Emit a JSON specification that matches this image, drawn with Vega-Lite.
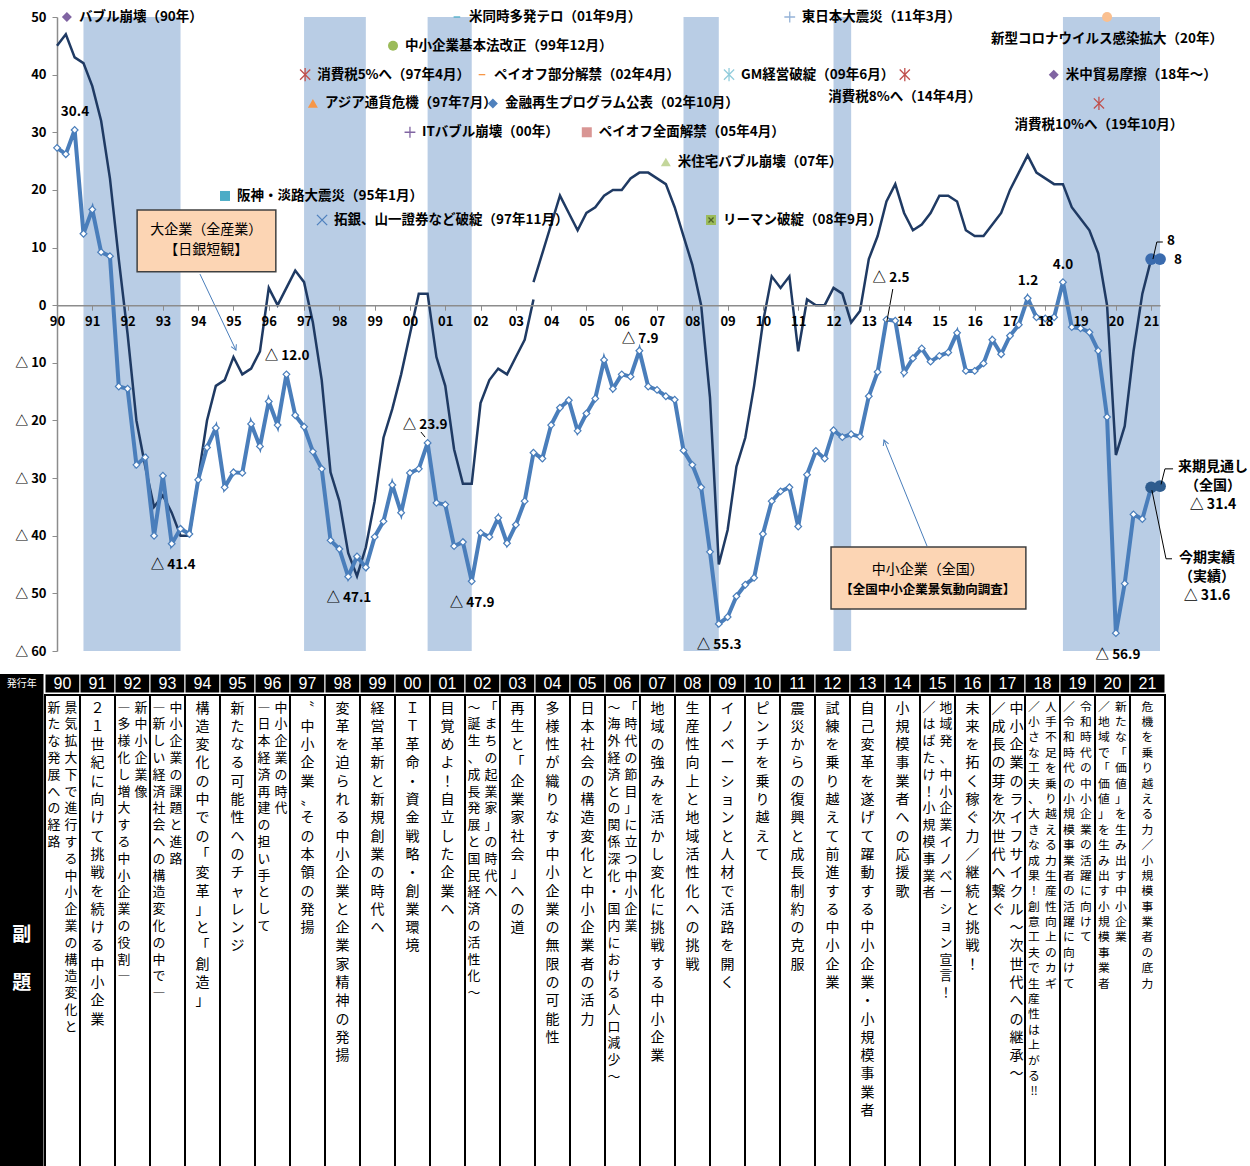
{
"$schema": "https://vega.github.io/schema/vega-lite/v6.json",
"background": "white",
"padding": 0,
"spacing": 5,
"config": {"view": {"stroke": null}, "font": "Noto Sans CJK JP", "concat": {"spacing": 0}},
"datasets": {
"bands": [{"x":1990.75,"x2":1993.5},{"x":1997,"x2":1998.75},{"x":2000.5,"x2":2001.75},{"x":2007.75,"x2":2008.75},{"x":2012,"x2":2012.5},{"x":2018.5,"x2":2021.25}],
"large": [
{"x":1990,"y":45,"seg":"a"},{"x":1990.25,"y":47,"seg":"a"},{"x":1990.5,"y":43,"seg":"a"},{"x":1990.75,"y":42,"seg":"a"},
{"x":1991,"y":38,"seg":"a"},{"x":1991.25,"y":32,"seg":"a"},{"x":1991.5,"y":22,"seg":"a"},{"x":1991.75,"y":8,"seg":"a"},
{"x":1992,"y":-5,"seg":"a"},{"x":1992.25,"y":-20,"seg":"a"},{"x":1992.5,"y":-28,"seg":"a"},{"x":1992.75,"y":-35,"seg":"a"},
{"x":1993,"y":-33,"seg":"a"},{"x":1993.25,"y":-36,"seg":"a"},{"x":1993.5,"y":-40,"seg":"a"},{"x":1993.75,"y":-40,"seg":"a"},
{"x":1994,"y":-30,"seg":"a"},{"x":1994.25,"y":-20,"seg":"a"},{"x":1994.5,"y":-14,"seg":"a"},{"x":1994.75,"y":-13,"seg":"a"},
{"x":1995,"y":-9,"seg":"a"},{"x":1995.25,"y":-12,"seg":"a"},{"x":1995.5,"y":-11,"seg":"a"},{"x":1995.75,"y":-8,"seg":"a"},
{"x":1996,"y":3,"seg":"a"},{"x":1996.25,"y":0,"seg":"a"},{"x":1996.5,"y":3,"seg":"a"},{"x":1996.75,"y":6,"seg":"a"},
{"x":1997,"y":4,"seg":"a"},{"x":1997.25,"y":-3,"seg":"a"},{"x":1997.5,"y":-13,"seg":"a"},{"x":1997.75,"y":-29,"seg":"a"},
{"x":1998,"y":-34,"seg":"a"},{"x":1998.25,"y":-43,"seg":"a"},{"x":1998.5,"y":-47,"seg":"a"},{"x":1998.75,"y":-42,"seg":"a"},
{"x":1999,"y":-34,"seg":"a"},{"x":1999.25,"y":-23,"seg":"a"},{"x":1999.5,"y":-18,"seg":"a"},{"x":1999.75,"y":-12,"seg":"a"},
{"x":2000,"y":-5,"seg":"a"},{"x":2000.25,"y":2,"seg":"a"},{"x":2000.5,"y":2,"seg":"a"},{"x":2000.75,"y":-9,"seg":"a"},
{"x":2001,"y":-14,"seg":"a"},{"x":2001.25,"y":-25,"seg":"a"},{"x":2001.5,"y":-31,"seg":"a"},{"x":2001.75,"y":-31,"seg":"a"},
{"x":2002,"y":-17,"seg":"a"},{"x":2002.25,"y":-13,"seg":"a"},{"x":2002.5,"y":-11,"seg":"a"},{"x":2002.75,"y":-12,"seg":"a"},
{"x":2003,"y":-9,"seg":"a"},{"x":2003.25,"y":-6,"seg":"a"},{"x":2003.5,"y":1,"seg":"a"},
{"x":2003.5,"y":4,"seg":"b"},{"x":2003.75,"y":9,"seg":"b"},
{"x":2004,"y":14,"seg":"b"},{"x":2004.25,"y":19,"seg":"b"},{"x":2004.5,"y":16,"seg":"b"},{"x":2004.75,"y":13,"seg":"b"},
{"x":2005,"y":16,"seg":"b"},{"x":2005.25,"y":17,"seg":"b"},{"x":2005.5,"y":19,"seg":"b"},{"x":2005.75,"y":20,"seg":"b"},
{"x":2006,"y":20,"seg":"b"},{"x":2006.25,"y":22,"seg":"b"},{"x":2006.5,"y":23,"seg":"b"},{"x":2006.75,"y":23,"seg":"b"},
{"x":2007,"y":22,"seg":"b"},{"x":2007.25,"y":21,"seg":"b"},{"x":2007.5,"y":17,"seg":"b"},{"x":2007.75,"y":12,"seg":"b"},
{"x":2008,"y":7,"seg":"b"},{"x":2008.25,"y":0,"seg":"b"},{"x":2008.5,"y":-16,"seg":"b"},{"x":2008.75,"y":-45,"seg":"b"},
{"x":2009,"y":-39,"seg":"b"},{"x":2009.25,"y":-28,"seg":"b"},{"x":2009.5,"y":-23,"seg":"b"},{"x":2009.75,"y":-14,"seg":"b"},
{"x":2010,"y":-3,"seg":"b"},{"x":2010.25,"y":5,"seg":"b"},{"x":2010.5,"y":3,"seg":"b"},{"x":2010.75,"y":5,"seg":"b"},
{"x":2011,"y":-8,"seg":"b"},{"x":2011.25,"y":1,"seg":"b"},{"x":2011.5,"y":0,"seg":"b"},{"x":2011.75,"y":0,"seg":"b"},
{"x":2012,"y":3,"seg":"b"},{"x":2012.25,"y":2,"seg":"b"},{"x":2012.5,"y":-3,"seg":"b"},{"x":2012.75,"y":-1,"seg":"b"},
{"x":2013,"y":8,"seg":"b"},{"x":2013.25,"y":12,"seg":"b"},{"x":2013.5,"y":18,"seg":"b"},{"x":2013.75,"y":21,"seg":"b"},
{"x":2014,"y":16,"seg":"b"},{"x":2014.25,"y":13,"seg":"b"},{"x":2014.5,"y":14,"seg":"b"},{"x":2014.75,"y":16,"seg":"b"},
{"x":2015,"y":19,"seg":"b"},{"x":2015.25,"y":19,"seg":"b"},{"x":2015.5,"y":18,"seg":"b"},{"x":2015.75,"y":13,"seg":"b"},
{"x":2016,"y":12,"seg":"b"},{"x":2016.25,"y":12,"seg":"b"},{"x":2016.5,"y":14,"seg":"b"},{"x":2016.75,"y":16,"seg":"b"},
{"x":2017,"y":20,"seg":"b"},{"x":2017.25,"y":23,"seg":"b"},{"x":2017.5,"y":26,"seg":"b"},{"x":2017.75,"y":23,"seg":"b"},
{"x":2018,"y":22,"seg":"b"},{"x":2018.25,"y":21,"seg":"b"},{"x":2018.5,"y":21,"seg":"b"},{"x":2018.75,"y":17,"seg":"b"},
{"x":2019,"y":15,"seg":"b"},{"x":2019.25,"y":13,"seg":"b"},{"x":2019.5,"y":9,"seg":"b"},{"x":2019.75,"y":0,"seg":"b"},
{"x":2020,"y":-26,"seg":"b"},{"x":2020.25,"y":-21,"seg":"b"},{"x":2020.5,"y":-8,"seg":"b"},{"x":2020.75,"y":2,"seg":"b"},
{"x":2021,"y":8,"seg":"b"}
],
"sme": [
{"x":1990,"y":27.3},{"x":1990.25,"y":26.2},{"x":1990.5,"y":30.4},{"x":1990.75,"y":12.4},
{"x":1991,"y":16.6},{"x":1991.25,"y":9.2},{"x":1991.5,"y":8.5},{"x":1991.75,"y":-14.1},
{"x":1992,"y":-14.5},{"x":1992.25,"y":-27.7},{"x":1992.5,"y":-26.4},{"x":1992.75,"y":-40.0},
{"x":1993,"y":-29.6},{"x":1993.25,"y":-41.4},{"x":1993.5,"y":-38.8},{"x":1993.75,"y":-39.7},
{"x":1994,"y":-30.3},{"x":1994.25,"y":-24.7},{"x":1994.5,"y":-21.3},{"x":1994.75,"y":-31.6},
{"x":1995,"y":-29.0},{"x":1995.25,"y":-29.1},{"x":1995.5,"y":-20.6},{"x":1995.75,"y":-24.5},
{"x":1996,"y":-16.7},{"x":1996.25,"y":-20.8},{"x":1996.5,"y":-12.0},{"x":1996.75,"y":-19.1},
{"x":1997,"y":-21.1},{"x":1997.25,"y":-25.4},{"x":1997.5,"y":-28.4},{"x":1997.75,"y":-40.8},
{"x":1998,"y":-42.3},{"x":1998.25,"y":-47.1},{"x":1998.5,"y":-43.6},{"x":1998.75,"y":-45.5},
{"x":1999,"y":-40.2},{"x":1999.25,"y":-37.5},{"x":1999.5,"y":-31.2},{"x":1999.75,"y":-36.0},
{"x":2000,"y":-29.1},{"x":2000.25,"y":-28.4},{"x":2000.5,"y":-23.9},{"x":2000.75,"y":-34.3},
{"x":2001,"y":-34.6},{"x":2001.25,"y":-41.8},{"x":2001.5,"y":-41.1},{"x":2001.75,"y":-47.9},
{"x":2002,"y":-39.5},{"x":2002.25,"y":-40.2},{"x":2002.5,"y":-36.9},{"x":2002.75,"y":-41.3},
{"x":2003,"y":-38.1},{"x":2003.25,"y":-34.0},{"x":2003.5,"y":-25.6},{"x":2003.75,"y":-26.6},
{"x":2004,"y":-20.8},{"x":2004.25,"y":-17.8},{"x":2004.5,"y":-16.5},{"x":2004.75,"y":-21.8},
{"x":2005,"y":-18.8},{"x":2005.25,"y":-16.2},{"x":2005.5,"y":-9.5},{"x":2005.75,"y":-14.5},
{"x":2006,"y":-12.0},{"x":2006.25,"y":-12.4},{"x":2006.5,"y":-7.9},{"x":2006.75,"y":-14.1},
{"x":2007,"y":-14.7},{"x":2007.25,"y":-15.8},{"x":2007.5,"y":-16.4},{"x":2007.75,"y":-25.2},
{"x":2008,"y":-27.7},{"x":2008.25,"y":-31.6},{"x":2008.5,"y":-42.8},{"x":2008.75,"y":-55.3},
{"x":2009,"y":-54.1},{"x":2009.25,"y":-50.5},{"x":2009.5,"y":-48.5},{"x":2009.75,"y":-47.3},
{"x":2010,"y":-39.7},{"x":2010.25,"y":-34.0},{"x":2010.5,"y":-32.3},{"x":2010.75,"y":-31.6},
{"x":2011,"y":-38.4},{"x":2011.25,"y":-29.4},{"x":2011.5,"y":-25.3},{"x":2011.75,"y":-26.6},
{"x":2012,"y":-21.7},{"x":2012.25,"y":-22.9},{"x":2012.5,"y":-22.4},{"x":2012.75,"y":-22.8},
{"x":2013,"y":-15.8},{"x":2013.25,"y":-11.6},{"x":2013.5,"y":-2.5},{"x":2013.75,"y":-2.7},
{"x":2014,"y":-11.7},{"x":2014.25,"y":-9.2},{"x":2014.5,"y":-7.5},{"x":2014.75,"y":-9.8},
{"x":2015,"y":-8.8},{"x":2015.25,"y":-8.2},{"x":2015.5,"y":-4.8},{"x":2015.75,"y":-11.4},
{"x":2016,"y":-11.4},{"x":2016.25,"y":-10.1},{"x":2016.5,"y":-6.0},{"x":2016.75,"y":-8.5},
{"x":2017,"y":-5.3},{"x":2017.25,"y":-3.4},{"x":2017.5,"y":1.2},{"x":2017.75,"y":-2.1},
{"x":2018,"y":-2.3},{"x":2018.25,"y":-2.1},{"x":2018.5,"y":4.0},{"x":2018.75,"y":-3.8},
{"x":2019,"y":-4.0},{"x":2019.25,"y":-4.7},{"x":2019.5,"y":-7.9},{"x":2019.75,"y":-19.4},
{"x":2020,"y":-56.9},{"x":2020.25,"y":-48.3},{"x":2020.5,"y":-36.3},{"x":2020.75,"y":-37.1},
{"x":2021,"y":-31.6}
],
"ends": [{"x":2021,"y":-31.6,"s":"sme"},{"x":2021.25,"y":-31.4,"s":"sme"},{"x":2021,"y":8,"s":"large"},{"x":2021.25,"y":8,"s":"large"}],
"events": [
{"ev":"バブル崩壊（90年）","x":1990.28,"y":50},
{"ev":"米同時多発テロ（01年9月）","x":2001.33,"y":50},
{"ev":"中小企業基本法改正（99年12月）","x":1999.52,"y":45},
{"ev":"消費税5%へ（97年4月）","x":1997.03,"y":40},
{"ev":"ペイオフ部分解禁（02年4月）","x":2002.04,"y":40},
{"ev":"GM経営破綻（09年6月）","x":2009.04,"y":40},
{"ev":"消費税8%へ（14年4月）","x":2014.02,"y":40},
{"ev":"米中貿易摩擦（18年～）","x":2018.24,"y":40},
{"ev":"アジア通貨危機（97年7月）","x":1997.25,"y":35},
{"ev":"金融再生プログラム公表（02年10月）","x":2002.35,"y":35},
{"ev":"ITバブル崩壊（00年）","x":2000.0,"y":30},
{"ev":"ペイオフ全面解禁（05年4月）","x":2005.01,"y":30},
{"ev":"東日本大震災（11年3月）","x":2010.76,"y":50},
{"ev":"新型コロナウイルス感染拡大（20年）","x":2019.75,"y":50},
{"ev":"消費税10%へ（19年10月）","x":2019.52,"y":35},
{"ev":"米住宅バブル崩壊（07年）","x":2007.25,"y":24.85},
{"ev":"阪神・淡路大震災（95年1月）","x":1994.76,"y":18.95},
{"ev":"拓銀、山一證券など破綻（97年11月）","x":1997.51,"y":14.78},
{"ev":"リーマン破綻（08年9月）","x":2008.53,"y":14.78}
],
"labels": [
{"x":1990.51,"y":33.5,"t":"30.4"},{"x":1996.52,"y":-8.8,"t":"△ 12.0"},{"x":1993.29,"y":-45.1,"t":"△ 41.4"},
{"x":1998.27,"y":-50.8,"t":"△ 47.1"},{"x":2000.43,"y":-20.8,"t":"△ 23.9"},{"x":2001.76,"y":-51.6,"t":"△ 47.9"},
{"x":2006.52,"y":-5.9,"t":"△ 7.9"},{"x":2008.76,"y":-58.9,"t":"△ 55.3"},{"x":2013.63,"y":4.7,"t":"△ 2.5"},
{"x":2017.51,"y":4.2,"t":"1.2"},{"x":2018.5,"y":7.0,"t":"4.0"},{"x":2020.06,"y":-60.7,"t":"△ 56.9"},
{"x":2021.56,"y":11.1,"t":"8"},{"x":2021.76,"y":7.8,"t":"8"}
],
"sidelabels": [{"x":2022.75,"y":-28.1,"t":"来期見通し\n（全国）\n△ 31.4"},{"x":2022.58,"y":-43.9,"t":"今期実績\n（実績）\n△ 31.6"}],
"leaders": [
{"id":"l1","o":1,"x":2013.68,"y":2.8},{"id":"l1","o":2,"x":2013.51,"y":-2.9},
{"id":"l2","o":1,"x":2021.05,"y":8.0},{"id":"l2","o":2,"x":2021.16,"y":10.96},{"id":"l2","o":3,"x":2021.33,"y":10.96},
{"id":"l3","o":1,"x":2021.28,"y":-31.1},{"id":"l3","o":2,"x":2021.39,"y":-28.4},{"id":"l3","o":3,"x":2021.62,"y":-28.4},
{"id":"l4","o":1,"x":2021.02,"y":-32.1},{"id":"l4","o":2,"x":2021.42,"y":-44.0},{"id":"l4","o":3,"x":2021.59,"y":-44.0},
{"id":"l5","o":1,"x":2000.31,"y":-22.0},{"id":"l5","o":2,"x":2000.43,"y":-22.9}
],
"arrows": [{"id":"a1","o":1,"x":1994.05,"y":5.4},{"id":"a1","o":2,"x":1995.07,"y":-7.8},{"id":"a2","o":1,"x":2014.65,"y":-41.8},{"id":"a2","o":2,"x":2013.43,"y":-23.4}],
"boxes": [{"x":1992.27,"x2":1996.2,"y":16.5,"y2":5.8},{"x":2011.93,"x2":2017.45,"y":-41.95,"y2":-52.7}],
"boxtext": [{"x":1994.23,"y":13.05,"t":"大企業（全産業）"},{"x":1994.23,"y":9.6,"t":"【日銀短観】"},{"x":2014.67,"y":-45.9,"t":"中小企業（全国）"},{"x":2014.67,"y":-49.4,"t":"【全国中小企業景気動向調査】"}],
"years": [{"yr":"90"},{"yr":"91"},{"yr":"92"},{"yr":"93"},{"yr":"94"},{"yr":"95"},{"yr":"96"},{"yr":"97"},{"yr":"98"},{"yr":"99"},{"yr":"00"},{"yr":"01"},{"yr":"02"},{"yr":"03"},{"yr":"04"},{"yr":"05"},{"yr":"06"},{"yr":"07"},{"yr":"08"},{"yr":"09"},{"yr":"10"},{"yr":"11"},{"yr":"12"},{"yr":"13"},{"yr":"14"},{"yr":"15"},{"yr":"16"},{"yr":"17"},{"yr":"18"},{"yr":"19"},{"yr":"20"},{"yr":"21"}],
"subtitles": [
{"yr":"90","ln":1,"t":"景気拡大下で進行する中小企業の構造変化と"},
{"yr":"90","ln":2,"t":"新たな発展への経路"},
{"yr":"91","ln":1,"t":"２１世紀に向けて挑戦を続ける中小企業"},
{"yr":"92","ln":1,"t":"新中小企業像"},
{"yr":"92","ln":2,"t":"―多様化し増大する中小企業の役割―"},
{"yr":"93","ln":1,"t":"中小企業の課題と進路"},
{"yr":"93","ln":2,"t":"―新しい経済社会への構造変化の中で―"},
{"yr":"94","ln":1,"t":"構造変化の中での「変革」と「創造」"},
{"yr":"95","ln":1,"t":"新たなる可能性へのチャレンジ"},
{"yr":"96","ln":1,"t":"中小企業の時代"},
{"yr":"96","ln":2,"t":"―日本経済再建の担い手として"},
{"yr":"97","ln":1,"t":"〝中小企業〟その本領の発揚"},
{"yr":"98","ln":1,"t":"変革を迫られる中小企業と企業家精神の発揚"},
{"yr":"99","ln":1,"t":"経営革新と新規創業の時代へ"},
{"yr":"00","ln":1,"t":"ＩＴ革命・資金戦略・創業環境"},
{"yr":"01","ln":1,"t":"目覚めよ！自立した企業へ"},
{"yr":"02","ln":1,"t":"「まちの起業家」の時代へ"},
{"yr":"02","ln":2,"t":"～誕生、成長発展と国民経済の活性化～"},
{"yr":"03","ln":1,"t":"再生と「企業家社会」への道"},
{"yr":"04","ln":1,"t":"多様性が織りなす中小企業の無限の可能性"},
{"yr":"05","ln":1,"t":"日本社会の構造変化と中小企業者の活力"},
{"yr":"06","ln":1,"t":"「時代の節目」に立つ中小企業"},
{"yr":"06","ln":2,"t":"～海外経済との関係深化・国内における人口減少～"},
{"yr":"07","ln":1,"t":"地域の強みを活かし変化に挑戦する中小企業"},
{"yr":"08","ln":1,"t":"生産性向上と地域活性化への挑戦"},
{"yr":"09","ln":1,"t":"イノベーションと人材で活路を開く"},
{"yr":"10","ln":1,"t":"ピンチを乗り越えて"},
{"yr":"11","ln":1,"t":"震災からの復興と成長制約の克服"},
{"yr":"12","ln":1,"t":"試練を乗り越えて前進する中小企業"},
{"yr":"13","ln":1,"t":"自己変革を遂げて躍動する中小企業・小規模事業者"},
{"yr":"14","ln":1,"t":"小規模事業者への応援歌"},
{"yr":"15","ln":1,"t":"地域発、中小企業イノベーション宣言！"},
{"yr":"15","ln":2,"t":"／はばたけ！小規模事業者"},
{"yr":"16","ln":1,"t":"未来を拓く　稼ぐ力／継続と挑戦！"},
{"yr":"17","ln":1,"t":"中小企業のライフサイクル～次世代への継承～"},
{"yr":"17","ln":2,"t":"／成長の芽を次世代へ繋ぐ"},
{"yr":"18","ln":1,"t":"人手不足を乗り越える力　生産性向上のカギ"},
{"yr":"18","ln":2,"t":"／小さな工夫、大きな成果！創意工夫で生産性は上がる‼"},
{"yr":"19","ln":1,"t":"令和時代の中小企業の活躍に向けて"},
{"yr":"19","ln":2,"t":"／令和時代の小規模事業者の活躍に向けて"},
{"yr":"20","ln":1,"t":"新たな「価値」を生み出す中小企業"},
{"yr":"20","ln":2,"t":"／地域で「価値」を生み出す小規模事業者"},
{"yr":"21","ln":1,"t":"危機を乗り越える力／小規模事業者の底力"}
]
},
"vconcat": [
{
"width": 1250, "height": 668,
"view": {"fill": "white", "stroke": null},
"resolve": {"scale": {"color": "independent", "shape": "independent"}},
"layer": [
{"data": {"name": "bands"}, "mark": {"type": "rect", "color": "#B9CDE5"},
 "encoding": {
  "x": {"field": "x", "type": "quantitative", "scale": {"domain": [1990, 2021.25], "range": [57, 1160], "nice": false, "zero": false}},
  "x2": {"field": "x2"},
  "y": {"datum": 50, "type": "quantitative", "scale": {"domain": [-60, 50], "range": [651, 17], "nice": false, "zero": false}},
  "y2": {"datum": -60}}},
{"data": {"name": "boxes"}, "mark": {"type": "rect", "fill": "#FCD5B4", "stroke": "#404040", "strokeWidth": 1.5},
 "encoding": {
  "x": {"field": "x", "type": "quantitative", "scale": {"domain": [1990, 2021.25], "range": [57, 1160], "nice": false, "zero": false}},
  "x2": {"field": "x2"},
  "y": {"field": "y", "type": "quantitative", "scale": {"domain": [-60, 50], "range": [651, 17], "nice": false, "zero": false}},
  "y2": {"field": "y2"}}},
{"data": {"name": "large"}, "mark": {"type": "line", "color": "#1F3A63", "strokeWidth": 2.5},
 "encoding": {
  "x": {"field": "x", "type": "quantitative", "scale": {"domain": [1990, 2021.25], "range": [57, 1160], "nice": false, "zero": false}},
  "y": {"field": "y", "type": "quantitative", "scale": {"domain": [-60, 50], "range": [651, 17], "nice": false, "zero": false}},
  "detail": {"field": "seg"}}},
{"data": {"name": "sme"}, "mark": {"type": "line", "color": "#4A7EBB", "strokeWidth": 4},
 "encoding": {
  "x": {"field": "x", "type": "quantitative", "scale": {"domain": [1990, 2021.25], "range": [57, 1160], "nice": false, "zero": false},
    "axis": {"values": [1990,1991,1992,1993,1994,1995,1996,1997,1998,1999,2000,2001,2002,2003,2004,2005,2006,2007,2008,2009,2010,2011,2012,2013,2014,2015,2016,2017,2018,2019,2020,2021],
      "labelExpr": "(datum.value % 100 < 10 ? '0' : '') + (datum.value % 100)", "offset": -362.8, "domainColor": "#8C8C8C", "domainWidth": 1.5, "tickColor": "#8C8C8C", "tickSize": 5,
      "labelPadding": 5, "labelFontSize": 13, "labelFontWeight": "bold", "labelColor": "black", "grid": false, "title": null, "zindex": 1, "labelOverlap": false, "labelFlush": false}},
  "y": {"field": "y", "type": "quantitative", "scale": {"domain": [-60, 50], "range": [651, 17], "nice": false, "zero": false},
    "axis": {"values": [-60,-50,-40,-30,-20,-10,0,10,20,30,40,50], "labelExpr": "datum.value < 0 ? '△ ' + (-datum.value) : '' + datum.value",
      "offset": -57, "domainColor": "#8C8C8C", "domainWidth": 1.5, "tickColor": "#8C8C8C", "tickSize": 5, "labelPadding": 6, "labelFontSize": 13, "labelFontWeight": "bold",
      "labelColor": "black", "grid": false, "title": null, "labelOverlap": false}}}},
{"data": {"name": "sme"}, "mark": {"type": "point", "shape": "diamond", "filled": true, "fill": "white", "stroke": "#4A7EBB", "strokeWidth": 1.2, "size": 45, "opacity": 1},
 "encoding": {
  "x": {"field": "x", "type": "quantitative", "scale": {"domain": [1990, 2021.25], "range": [57, 1160], "nice": false, "zero": false}},
  "y": {"field": "y", "type": "quantitative", "scale": {"domain": [-60, 50], "range": [651, 17], "nice": false, "zero": false}}}},
{"data": {"name": "ends"}, "transform": [{"filter": "datum.s == 'sme'"}], "mark": {"type": "point", "filled": true, "color": "#2E5C8E", "size": 140, "opacity": 1},
 "encoding": {
  "x": {"field": "x", "type": "quantitative", "scale": {"domain": [1990, 2021.25], "range": [57, 1160], "nice": false, "zero": false}},
  "y": {"field": "y", "type": "quantitative", "scale": {"domain": [-60, 50], "range": [651, 17], "nice": false, "zero": false}}}},
{"data": {"name": "ends"}, "transform": [{"filter": "datum.s == 'large'"}], "mark": {"type": "point", "filled": true, "color": "#3A6BAE", "size": 140, "opacity": 1},
 "encoding": {
  "x": {"field": "x", "type": "quantitative", "scale": {"domain": [1990, 2021.25], "range": [57, 1160], "nice": false, "zero": false}},
  "y": {"field": "y", "type": "quantitative", "scale": {"domain": [-60, 50], "range": [651, 17], "nice": false, "zero": false}}}},
{"data": {"name": "arrows"}, "mark": {"type": "line", "color": "#4A7EBB", "strokeWidth": 1},
 "encoding": {
  "x": {"field": "x", "type": "quantitative", "scale": {"domain": [1990, 2021.25], "range": [57, 1160], "nice": false, "zero": false}},
  "y": {"field": "y", "type": "quantitative", "scale": {"domain": [-60, 50], "range": [651, 17], "nice": false, "zero": false}},
  "detail": {"field": "id"}, "order": {"field": "o"}}},
{"data": {"name": "arrows"}, "transform": [{"filter": "datum.id == 'a1' && datum.o == 2"}], "mark": {"type": "point", "shape": "M-0.55,-1L0,0L0.55,-1", "filled": false, "color": "#4A7EBB", "strokeWidth": 1, "size": 110, "angle": 335, "opacity": 1},
 "encoding": {
  "x": {"field": "x", "type": "quantitative", "scale": {"domain": [1990, 2021.25], "range": [57, 1160], "nice": false, "zero": false}},
  "y": {"field": "y", "type": "quantitative", "scale": {"domain": [-60, 50], "range": [651, 17], "nice": false, "zero": false}}}},
{"data": {"name": "arrows"}, "transform": [{"filter": "datum.id == 'a2' && datum.o == 2"}], "mark": {"type": "point", "shape": "M-0.55,-1L0,0L0.55,-1", "filled": false, "color": "#4A7EBB", "strokeWidth": 1, "size": 110, "angle": 158, "opacity": 1},
 "encoding": {
  "x": {"field": "x", "type": "quantitative", "scale": {"domain": [1990, 2021.25], "range": [57, 1160], "nice": false, "zero": false}},
  "y": {"field": "y", "type": "quantitative", "scale": {"domain": [-60, 50], "range": [651, 17], "nice": false, "zero": false}}}},
{"data": {"name": "leaders"}, "mark": {"type": "line", "color": "black", "strokeWidth": 1},
 "encoding": {
  "x": {"field": "x", "type": "quantitative", "scale": {"domain": [1990, 2021.25], "range": [57, 1160], "nice": false, "zero": false}},
  "y": {"field": "y", "type": "quantitative", "scale": {"domain": [-60, 50], "range": [651, 17], "nice": false, "zero": false}},
  "detail": {"field": "id"}, "order": {"field": "o"}}},
{"data": {"name": "events"},
 "transform": [{"filter": {"field": "ev", "oneOf": ["バブル崩壊（90年）","中小企業基本法改正（99年12月）","米中貿易摩擦（18年～）","アジア通貨危機（97年7月）","金融再生プログラム公表（02年10月）","ペイオフ全面解禁（05年4月）","新型コロナウイルス感染拡大（20年）","米住宅バブル崩壊（07年）","阪神・淡路大震災（95年1月）","リーマン破綻（08年9月）"]}}],
 "mark": {"type": "point", "filled": true, "size": 100, "opacity": 1},
 "encoding": {
  "x": {"field": "x", "type": "quantitative", "scale": {"domain": [1990, 2021.25], "range": [57, 1160], "nice": false, "zero": false}},
  "y": {"field": "y", "type": "quantitative", "scale": {"domain": [-60, 50], "range": [651, 17], "nice": false, "zero": false}},
  "shape": {"field": "ev", "type": "nominal", "legend": null, "scale": {"domain": ["バブル崩壊（90年）","中小企業基本法改正（99年12月）","米中貿易摩擦（18年～）","アジア通貨危機（97年7月）","金融再生プログラム公表（02年10月）","ペイオフ全面解禁（05年4月）","新型コロナウイルス感染拡大（20年）","米住宅バブル崩壊（07年）","阪神・淡路大震災（95年1月）","リーマン破綻（08年9月）"],
     "range": ["diamond","circle","diamond","triangle-up","diamond","square","circle","triangle-up","square","square"]}},
  "color": {"field": "ev", "type": "nominal", "legend": null, "scale": {"domain": ["バブル崩壊（90年）","中小企業基本法改正（99年12月）","米中貿易摩擦（18年～）","アジア通貨危機（97年7月）","金融再生プログラム公表（02年10月）","ペイオフ全面解禁（05年4月）","新型コロナウイルス感染拡大（20年）","米住宅バブル崩壊（07年）","阪神・淡路大震災（95年1月）","リーマン破綻（08年9月）"],
     "range": ["#8064A2","#9BBB59","#8064A2","#F79646","#4F81BD","#D99694","#FAC090","#C3D69B","#4BACC6","#9BBB59"]}}}},
{"data": {"name": "events"},
 "transform": [{"filter": {"field": "ev", "oneOf": ["米同時多発テロ（01年9月）","消費税5%へ（97年4月）","ペイオフ部分解禁（02年4月）","GM経営破綻（09年6月）","消費税8%へ（14年4月）","ITバブル崩壊（00年）","東日本大震災（11年3月）","消費税10%へ（19年10月）","拓銀、山一證券など破綻（97年11月）","リーマン破綻（08年9月）"]}}],
 "mark": {"type": "point", "filled": false, "size": 144, "strokeWidth": 1.3, "opacity": 1},
 "encoding": {
  "x": {"field": "x", "type": "quantitative", "scale": {"domain": [1990, 2021.25], "range": [57, 1160], "nice": false, "zero": false}},
  "y": {"field": "y", "type": "quantitative", "scale": {"domain": [-60, 50], "range": [651, 17], "nice": false, "zero": false}},
  "shape": {"field": "ev", "type": "nominal", "legend": null, "scale": {"domain": ["米同時多発テロ（01年9月）","消費税5%へ（97年4月）","ペイオフ部分解禁（02年4月）","GM経営破綻（09年6月）","消費税8%へ（14年4月）","ITバブル崩壊（00年）","東日本大震災（11年3月）","消費税10%へ（19年10月）","拓銀、山一證券など破綻（97年11月）","リーマン破綻（08年9月）"],
     "range": ["M-0.55,0L0.55,0","M-0.85,-0.85L0.85,0.85M-0.85,0.85L0.85,-0.85M0,-1.1L0,1.1","M-0.55,0L0.55,0","M-0.85,-0.85L0.85,0.85M-0.85,0.85L0.85,-0.85M0,-1.1L0,1.1","M-0.85,-0.85L0.85,0.85M-0.85,0.85L0.85,-0.85M0,-1.1L0,1.1","M-0.9,0L0.9,0M0,-0.9L0,0.9","M-0.9,0L0.9,0M0,-0.9L0,0.9","M-0.85,-0.85L0.85,0.85M-0.85,0.85L0.85,-0.85M0,-1.1L0,1.1","M-0.85,-0.85L0.85,0.85M-0.85,0.85L0.85,-0.85","M-0.42,-0.42L0.42,0.42M-0.42,0.42L0.42,-0.42"]}},
  "color": {"field": "ev", "type": "nominal", "legend": null, "scale": {"domain": ["米同時多発テロ（01年9月）","消費税5%へ（97年4月）","ペイオフ部分解禁（02年4月）","GM経営破綻（09年6月）","消費税8%へ（14年4月）","ITバブル崩壊（00年）","東日本大震災（11年3月）","消費税10%へ（19年10月）","拓銀、山一證券など破綻（97年11月）","リーマン破綻（08年9月）"],
     "range": ["#4BACC6","#C0504D","#F79646","#92CDDC","#C0504D","#8064A2","#95B3D7","#C0504D","#4F81BD","#4F6228"]}}}},
{"data": {"name": "events"},
 "transform": [{"filter": {"not": {"field": "ev", "oneOf": ["消費税8%へ（14年4月）","新型コロナウイルス感染拡大（20年）","消費税10%へ（19年10月）"]}}}],
 "mark": {"type": "text", "align": "left", "baseline": "middle", "dx": 12, "fontSize": 13.5, "fontWeight": "bold", "color": "black"},
 "encoding": {
  "x": {"field": "x", "type": "quantitative", "scale": {"domain": [1990, 2021.25], "range": [57, 1160], "nice": false, "zero": false}},
  "y": {"field": "y", "type": "quantitative", "scale": {"domain": [-60, 50], "range": [651, 17], "nice": false, "zero": false}},
  "text": {"field": "ev"}}},
{"data": {"name": "events"},
 "transform": [{"filter": {"field": "ev", "oneOf": ["消費税8%へ（14年4月）","新型コロナウイルス感染拡大（20年）","消費税10%へ（19年10月）"]}}],
 "mark": {"type": "text", "align": "center", "baseline": "middle", "dy": 22, "fontSize": 13.5, "fontWeight": "bold", "color": "black"},
 "encoding": {
  "x": {"field": "x", "type": "quantitative", "scale": {"domain": [1990, 2021.25], "range": [57, 1160], "nice": false, "zero": false}},
  "y": {"field": "y", "type": "quantitative", "scale": {"domain": [-60, 50], "range": [651, 17], "nice": false, "zero": false}},
  "text": {"field": "ev"}}},
{"data": {"name": "labels"}, "mark": {"type": "text", "align": "center", "baseline": "middle", "fontSize": 13.5, "fontWeight": "bold", "color": "black"},
 "encoding": {
  "x": {"field": "x", "type": "quantitative", "scale": {"domain": [1990, 2021.25], "range": [57, 1160], "nice": false, "zero": false}},
  "y": {"field": "y", "type": "quantitative", "scale": {"domain": [-60, 50], "range": [651, 17], "nice": false, "zero": false}},
  "text": {"field": "t"}}},
{"data": {"name": "sidelabels"}, "mark": {"type": "text", "align": "center", "baseline": "middle", "fontSize": 14, "fontWeight": "bold", "color": "black", "lineBreak": "\n", "lineHeight": 19},
 "encoding": {
  "x": {"field": "x", "type": "quantitative", "scale": {"domain": [1990, 2021.25], "range": [57, 1160], "nice": false, "zero": false}},
  "y": {"field": "y", "type": "quantitative", "scale": {"domain": [-60, 50], "range": [651, 17], "nice": false, "zero": false}},
  "text": {"field": "t"}}},
{"data": {"name": "boxtext"}, "transform": [{"filter": {"field": "t", "oneOf": ["大企業（全産業）","【日銀短観】","中小企業（全国）"]}}],
 "mark": {"type": "text", "align": "center", "baseline": "middle", "fontSize": 14, "color": "black"},
 "encoding": {
  "x": {"field": "x", "type": "quantitative", "scale": {"domain": [1990, 2021.25], "range": [57, 1160], "nice": false, "zero": false}},
  "y": {"field": "y", "type": "quantitative", "scale": {"domain": [-60, 50], "range": [651, 17], "nice": false, "zero": false}},
  "text": {"field": "t"}}},
{"data": {"name": "boxtext"}, "transform": [{"filter": {"field": "t", "oneOf": ["【全国中小企業景気動向調査】"]}}],
 "mark": {"type": "text", "align": "center", "baseline": "middle", "fontSize": 12.5, "fontWeight": "bold", "color": "black"},
 "encoding": {
  "x": {"field": "x", "type": "quantitative", "scale": {"domain": [1990, 2021.25], "range": [57, 1160], "nice": false, "zero": false}},
  "y": {"field": "y", "type": "quantitative", "scale": {"domain": [-60, 50], "range": [651, 17], "nice": false, "zero": false}},
  "text": {"field": "t"}}}
]
},
{
"hconcat": [
 {"vconcat": [
   {"width": 43.5, "height": 19, "view": {"fill": "black", "stroke": null},
    "data": {"values": [{"h": "発行年"}]},
    "mark": {"type": "text", "color": "white", "fontSize": 10},
    "encoding": {"text": {"field": "h"}}},
   {"width": 43.5, "height": 474, "view": {"fill": "black", "stroke": null},
    "data": {"values": [{"h": "副題"}]},
    "mark": {"type": "text", "color": "white", "fontSize": 19, "fontWeight": "bold", "lineBreak": {"expr": "regexp('')"}, "lineHeight": 48, "dy": 5},
    "encoding": {"text": {"field": "h"}}}
 ], "spacing": 0},
 {"vconcat": [
   {"width": 1120, "height": 19, "view": {"fill": "black", "stroke": null},
    "data": {"name": "years"},
    "layer": [
     {"mark": {"type": "rect", "fill": "black", "stroke": "white", "strokeWidth": 1},
      "encoding": {"x": {"field": "yr", "type": "nominal", "scale": {"domain": ["90","91","92","93","94","95","96","97","98","99","00","01","02","03","04","05","06","07","08","09","10","11","12","13","14","15","16","17","18","19","20","21"], "paddingInner": 0, "paddingOuter": 0}, "axis": null}}},
     {"mark": {"type": "text", "color": "white", "fontSize": 16, "font": "Liberation Sans"},
      "encoding": {"x": {"field": "yr", "type": "nominal", "scale": {"domain": ["90","91","92","93","94","95","96","97","98","99","00","01","02","03","04","05","06","07","08","09","10","11","12","13","14","15","16","17","18","19","20","21"], "paddingInner": 0, "paddingOuter": 0}, "axis": null}, "text": {"field": "yr"}}}
    ]},
   {"width": 1120, "height": 474, "view": {"fill": "white", "stroke": null},
    "data": {"name": "subtitles"},
    "layer": [
     {"data": {"name": "years"}, "mark": {"type": "rect", "fill": "white", "stroke": "black", "strokeWidth": 2},
      "encoding": {"x": {"field": "yr", "type": "nominal", "scale": {"domain": ["90","91","92","93","94","95","96","97","98","99","00","01","02","03","04","05","06","07","08","09","10","11","12","13","14","15","16","17","18","19","20","21"], "paddingInner": 0, "paddingOuter": 0}, "axis": null}}},
     {"transform": [{"filter": {"field": "yr", "oneOf": ["91","94","95","97","98","99","00","01","03","04","05","07","08","09","10","11","12","13","14","16"]}}],
      "mark": {"type": "text", "align": "center", "baseline": "top", "fontSize": 14, "lineHeight": 18.3, "dy": 6.5, "color": "black", "lineBreak": {"expr": "regexp('')"}},
      "encoding": {"x": {"field": "yr", "type": "nominal", "scale": {"domain": ["90","91","92","93","94","95","96","97","98","99","00","01","02","03","04","05","06","07","08","09","10","11","12","13","14","15","16","17","18","19","20","21"], "paddingInner": 0, "paddingOuter": 0}, "axis": null},
        "y": {"datum": 0, "type": "quantitative", "scale": {"domain": [0, 1], "reverse": true}, "axis": null}, "text": {"field": "t"}}},
     {"transform": [{"filter": {"and": [{"field": "yr", "oneOf": ["90","92","93","96","02","06","15"]}, {"field": "ln", "equal": 1}]}}],
      "mark": {"type": "text", "align": "center", "baseline": "top", "fontSize": 12.9, "lineHeight": 16.8, "dy": 6.5, "dx": 8.5, "color": "black", "lineBreak": {"expr": "regexp('')"}},
      "encoding": {"x": {"field": "yr", "type": "nominal", "scale": {"domain": ["90","91","92","93","94","95","96","97","98","99","00","01","02","03","04","05","06","07","08","09","10","11","12","13","14","15","16","17","18","19","20","21"], "paddingInner": 0, "paddingOuter": 0}, "axis": null},
        "y": {"datum": 0, "type": "quantitative", "scale": {"domain": [0, 1], "reverse": true}, "axis": null}, "text": {"field": "t"}}},
     {"transform": [{"filter": {"and": [{"field": "yr", "oneOf": ["90","92","93","96","02","06","15"]}, {"field": "ln", "equal": 2}]}}],
      "mark": {"type": "text", "align": "center", "baseline": "top", "fontSize": 12.9, "lineHeight": 16.8, "dy": 6.5, "dx": -8.5, "color": "black", "lineBreak": {"expr": "regexp('')"}},
      "encoding": {"x": {"field": "yr", "type": "nominal", "scale": {"domain": ["90","91","92","93","94","95","96","97","98","99","00","01","02","03","04","05","06","07","08","09","10","11","12","13","14","15","16","17","18","19","20","21"], "paddingInner": 0, "paddingOuter": 0}, "axis": null},
        "y": {"datum": 0, "type": "quantitative", "scale": {"domain": [0, 1], "reverse": true}, "axis": null}, "text": {"field": "t"}}},
     {"transform": [{"filter": {"and": [{"field": "yr", "oneOf": ["17"]}, {"field": "ln", "equal": 1}]}}],
      "mark": {"type": "text", "align": "center", "baseline": "top", "fontSize": 14, "lineHeight": 18.3, "dy": 6.5, "dx": 9, "color": "black", "lineBreak": {"expr": "regexp('')"}},
      "encoding": {"x": {"field": "yr", "type": "nominal", "scale": {"domain": ["90","91","92","93","94","95","96","97","98","99","00","01","02","03","04","05","06","07","08","09","10","11","12","13","14","15","16","17","18","19","20","21"], "paddingInner": 0, "paddingOuter": 0}, "axis": null},
        "y": {"datum": 0, "type": "quantitative", "scale": {"domain": [0, 1], "reverse": true}, "axis": null}, "text": {"field": "t"}}},
     {"transform": [{"filter": {"and": [{"field": "yr", "oneOf": ["17"]}, {"field": "ln", "equal": 2}]}}],
      "mark": {"type": "text", "align": "center", "baseline": "top", "fontSize": 14, "lineHeight": 18.3, "dy": 6.5, "dx": -9, "color": "black", "lineBreak": {"expr": "regexp('')"}},
      "encoding": {"x": {"field": "yr", "type": "nominal", "scale": {"domain": ["90","91","92","93","94","95","96","97","98","99","00","01","02","03","04","05","06","07","08","09","10","11","12","13","14","15","16","17","18","19","20","21"], "paddingInner": 0, "paddingOuter": 0}, "axis": null},
        "y": {"datum": 0, "type": "quantitative", "scale": {"domain": [0, 1], "reverse": true}, "axis": null}, "text": {"field": "t"}}},
     {"transform": [{"filter": {"and": [{"field": "yr", "oneOf": ["18","19","20"]}, {"field": "ln", "equal": 1}]}}],
      "mark": {"type": "text", "align": "center", "baseline": "top", "fontSize": 11.8, "lineHeight": 15.4, "dy": 6.5, "dx": 8.5, "color": "black", "lineBreak": {"expr": "regexp('')"}},
      "encoding": {"x": {"field": "yr", "type": "nominal", "scale": {"domain": ["90","91","92","93","94","95","96","97","98","99","00","01","02","03","04","05","06","07","08","09","10","11","12","13","14","15","16","17","18","19","20","21"], "paddingInner": 0, "paddingOuter": 0}, "axis": null},
        "y": {"datum": 0, "type": "quantitative", "scale": {"domain": [0, 1], "reverse": true}, "axis": null}, "text": {"field": "t"}}},
     {"transform": [{"filter": {"and": [{"field": "yr", "oneOf": ["18","19","20"]}, {"field": "ln", "equal": 2}]}}],
      "mark": {"type": "text", "align": "center", "baseline": "top", "fontSize": 11.8, "lineHeight": 15.4, "dy": 6.5, "dx": -8.5, "color": "black", "lineBreak": {"expr": "regexp('')"}},
      "encoding": {"x": {"field": "yr", "type": "nominal", "scale": {"domain": ["90","91","92","93","94","95","96","97","98","99","00","01","02","03","04","05","06","07","08","09","10","11","12","13","14","15","16","17","18","19","20","21"], "paddingInner": 0, "paddingOuter": 0}, "axis": null},
        "y": {"datum": 0, "type": "quantitative", "scale": {"domain": [0, 1], "reverse": true}, "axis": null}, "text": {"field": "t"}}},
     {"transform": [{"filter": {"field": "yr", "oneOf": ["21"]}}],
      "mark": {"type": "text", "align": "center", "baseline": "top", "fontSize": 11.8, "lineHeight": 15.4, "dy": 6.5, "color": "black", "lineBreak": {"expr": "regexp('')"}},
      "encoding": {"x": {"field": "yr", "type": "nominal", "scale": {"domain": ["90","91","92","93","94","95","96","97","98","99","00","01","02","03","04","05","06","07","08","09","10","11","12","13","14","15","16","17","18","19","20","21"], "paddingInner": 0, "paddingOuter": 0}, "axis": null},
        "y": {"datum": 0, "type": "quantitative", "scale": {"domain": [0, 1], "reverse": true}, "axis": null}, "text": {"field": "t"}}}
    ]}
 ], "spacing": 0}
], "spacing": 0
}
]
}
